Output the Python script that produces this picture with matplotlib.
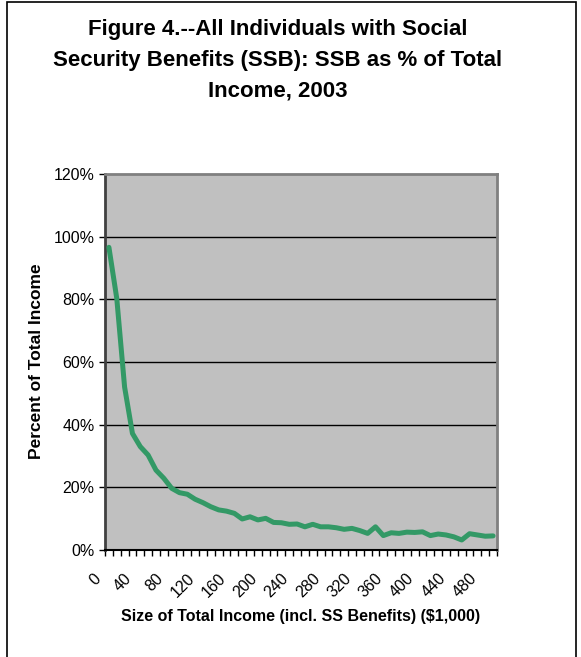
import matplotlib.pyplot as plt
import numpy as np
from matplotlib.patches import Rectangle
from matplotlib.ticker import FixedLocator, FuncFormatter
from matplotlib.transforms import ScaledTranslation

plt.rcParams['font.family'] = ['Liberation Sans', 'DejaVu Sans']

# income size classes, $1,000 steps of 10
revenu = list(range(0, 500, 10))
# social security benefits as % of total income
pourcentage = [96.6, 80.3, 52.0, 37.2, 33.0, 30.3, 25.5, 22.9, 19.7, 18.3,
               17.8, 16.2, 15.1, 13.8, 12.8, 12.4, 11.7, 9.9, 10.6, 9.6,
               10.1, 8.8, 8.7, 8.2, 8.3, 7.4, 8.2, 7.4, 7.4, 7.1,
               6.6, 6.9, 6.2, 5.3, 7.4, 4.6, 5.5, 5.3, 5.7, 5.6,
               5.8, 4.6, 5.1, 4.8, 4.2, 3.2, 5.2, 4.8, 4.4, 4.5]
graduationsY = [0, 20, 40, 60, 80, 100, 120]

titre = ("Figure 4.--All Individuals with Social\n"
         "Security Benefits (SSB): SSB as % of Total\n"
         "Income, 2003")

fig = plt.figure(figsize=(5.81, 6.57), dpi=100)
W, H = 581, 657
ax = fig.add_axes([105 / W, 1 - 550 / H, 392 / W, 376 / H])

# cadre autour du graphique
fig.patches.append(Rectangle((7 / W, -0.01), 569 / W, 1 - 2 / H + 0.01,
                             transform=fig.transFigure, fill=False,
                             edgecolor='black', linewidth=1.2))

x = np.arange(len(revenu))
ax.set_facecolor('#c0c0c0')
ax.plot(x, pourcentage, color='#339966', linewidth=3.6,
        solid_joinstyle='round', solid_capstyle='round', zorder=3)

ax.set_xlim(-0.5, len(revenu) - 0.5)
ax.set_ylim(0, 120)

# grille horizontale
for g in graduationsY[1:-1]:
    ax.axhline(g, color='black', linewidth=1.0, zorder=1)

# graduations x entre les catégories, étiquettes au centre
ax.xaxis.set_major_locator(FixedLocator(np.arange(-0.5, len(revenu), 1)))
ax.xaxis.set_major_formatter(FuncFormatter(lambda v, p: ''))
ax.xaxis.set_minor_locator(FixedLocator(x[::4]))
ax.set_xticklabels([str(r) for r in revenu[::4]], minor=True,
                   rotation=45, ha='right', va='top', fontsize=11.5)
ax.tick_params(axis='x', which='major', direction='out', length=4,
               width=1, color='black')
ax.tick_params(axis='x', which='minor', length=0, pad=15)
decalage = ScaledTranslation(-4 / 72, 0, fig.dpi_scale_trans)
for lab in ax.xaxis.get_minorticklabels():
    lab.set_transform(lab.get_transform() + decalage)

ax.set_yticks(graduationsY)
ax.set_yticklabels([f'{g}%' for g in graduationsY], fontsize=11.5)
ax.tick_params(axis='y', direction='out', length=4.5, width=1, pad=3)

for c in ['top', 'right']:
    ax.spines[c].set_color('#808080')
    ax.spines[c].set_linewidth(2)
ax.spines['left'].set_color('#404040')
ax.spines['left'].set_linewidth(2)
ax.spines['bottom'].set_color('black')
ax.spines['bottom'].set_linewidth(1.5)

fig.text(278 / W, 1 - 19 / H, titre, ha='center', va='top',
         fontsize=16, fontweight='bold', linespacing=1.62)
fig.text(37 / W, 1 - 361 / H, 'Percent of Total Income', rotation=90,
         ha='center', va='center', fontsize=12.5, fontweight='bold')
fig.text(301 / W, 1 - 616 / H,
         'Size of Total Income (incl. SS Benefits) ($1,000)',
         ha='center', va='center', fontsize=11.5, fontweight='bold')

fig.savefig('out.png', dpi=100)
